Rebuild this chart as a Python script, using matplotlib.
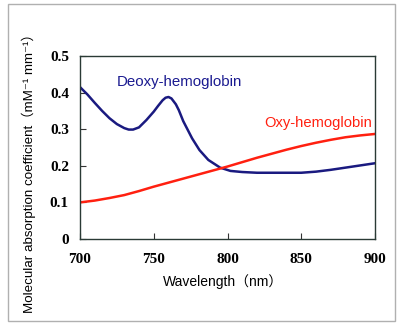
import matplotlib
matplotlib.use("Agg")
import matplotlib.pyplot as plt
from matplotlib.patches import Rectangle

# Data
deoxy_wl = [700, 705, 710, 715, 720, 725, 730, 733, 736, 740, 745, 750, 753, 756,
            758, 760, 762, 765, 767, 770, 776, 781, 787, 795, 802, 810, 820, 830,
            840, 850, 860, 870, 880, 890, 900]
deoxy_val = [0.415, 0.395, 0.372, 0.350, 0.330, 0.314, 0.303, 0.299, 0.299, 0.305,
             0.325, 0.348, 0.364, 0.379, 0.386, 0.388, 0.384, 0.368, 0.352, 0.322,
             0.275, 0.243, 0.216, 0.195, 0.186, 0.183, 0.181, 0.181, 0.181, 0.181,
             0.184, 0.189, 0.195, 0.201, 0.207]
oxy_wl = [700, 710, 720, 730, 740, 750, 760, 770, 780, 790, 800, 810, 820, 830,
          840, 850, 860, 870, 880, 890, 900]
oxy_val = [0.100, 0.105, 0.112, 0.120, 0.131, 0.143, 0.154, 0.165, 0.176, 0.187,
           0.198, 0.210, 0.222, 0.233, 0.244, 0.254, 0.263, 0.271, 0.278, 0.283,
           0.287]
xticks = [700, 750, 800, 850, 900]
yticks = [0, 0.1, 0.2, 0.3, 0.4, 0.5]
ytick_labels = ["0", "0.1", "0.2", "0.3", "0.4", "0.5"]

W, H = 398, 323
fig = plt.figure(figsize=(W / 100, H / 100), dpi=100)
ax = fig.add_axes([80 / W, 1 - 239 / H, 295 / W, 183 / H])

# Figure border
fig.patches.append(Rectangle((8 / W, 1 - 321 / H), 387 / W, 317 / H,
                             transform=fig.transFigure, fill=False,
                             edgecolor="#b0b0b0", linewidth=1.0))

ax.plot(deoxy_wl, deoxy_val, color="#1a1a80", linewidth=1.8,
        solid_joinstyle="round")
ax.plot(oxy_wl, oxy_val, color="#ff2010", linewidth=1.8,
        solid_joinstyle="round")

ax.set_xlim(700, 900)
ax.set_ylim(0, 0.5)
ax.set_xticks(xticks)
ax.set_yticks(yticks)
ax.set_yticklabels(ytick_labels)
ax.tick_params(direction="in", length=4, width=0.8, color="#333333",
               top=False, right=False)
ax.tick_params(axis="x", pad=10)
ax.tick_params(axis="y", pad=8)
for lbl in ax.get_xticklabels() + ax.get_yticklabels():
    lbl.set_fontfamily("Liberation Serif")
    lbl.set_fontweight("bold")
    lbl.set_fontsize(11)
for s in ax.spines.values():
    s.set_color("#2a3a35")
    s.set_linewidth(1.0)

ax.text(0.125, 0.86, "Deoxy-hemoglobin", transform=ax.transAxes, color="#1a1a90",
        fontsize=10.8, family=["Liberation Sans"], va="center", ha="left")
ax.text(0.99, 0.635, "Oxy-hemoglobin", transform=ax.transAxes, color="#ff2010",
        fontsize=10.6, family=["Liberation Sans"], va="center", ha="right")

fig.text(223 / W, 1 - 282 / H, "Wavelength（nm）", ha="center", va="center",
         fontsize=10, family=["Liberation Sans", "Noto Sans CJK JP"])
fig.text(29 / W, 1 - 170 / H, "Molecular absorption coefficient（mM⁻¹ mm⁻¹）",
         ha="center", va="center", rotation=90, fontsize=9.6,
         family=["Liberation Sans", "DejaVu Sans", "Noto Sans CJK JP"])

fig.savefig("out.png", dpi=100)
